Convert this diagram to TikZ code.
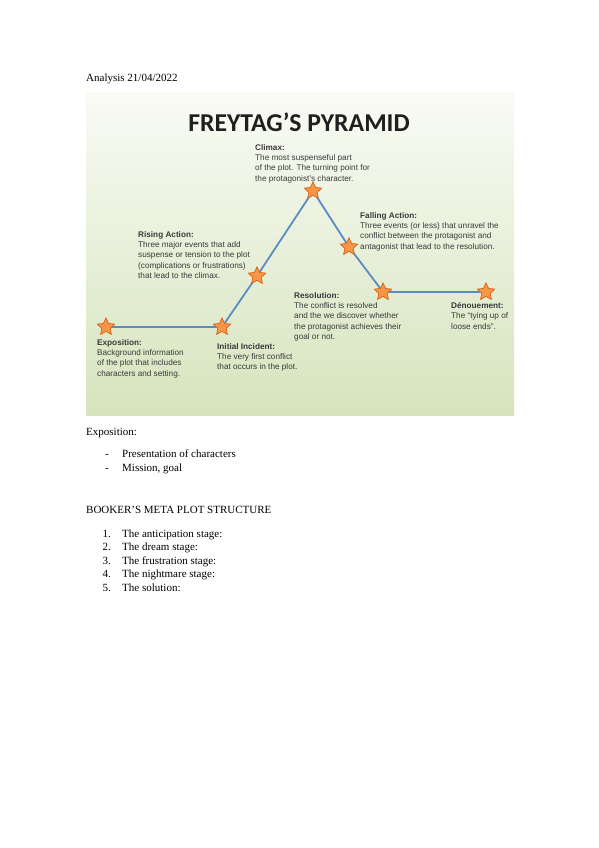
\documentclass[tikz,border=0pt]{standalone}
\usepackage{fontspec}
\setmainfont{Liberation Serif}
\newfontfamily\slidefont{Liberation Sans}
\newfontfamily\titlefont{Carlito}
\usetikzlibrary{shapes.geometric}

\definecolor{plotline}{HTML}{5B8BC4}
\definecolor{starfill}{HTML}{F79646}
\definecolor{stardraw}{HTML}{D9661F}
\definecolor{slidetop}{HTML}{F9FBF5}
\definecolor{slidebot}{HTML}{D6E4BD}
\definecolor{slidetext}{HTML}{3A3A3A}

\begin{document}
\begin{tikzpicture}[x=1pt,y=-1pt,
	plotstar/.style={star, star points=5, star point ratio=2.1, minimum size=18pt, inner sep=0pt, fill=starfill, draw=stardraw, line width=0.6pt},
	infotxt/.style={anchor=north west, inner sep=0pt, align=left, text=slidetext, font=\slidefont\fontsize{8.2}{10.4}\selectfont},
	pagetxt/.style={anchor=base west, inner sep=0pt, font=\fontsize{11}{13}\selectfont}]
	\useasboundingbox (0,0) rectangle (599,848);
	\fill[white] (0,0) rectangle (599,848);
	% slide picture
	\shade[top color=slidetop, bottom color=slidebot] (86,93) rectangle (514,415);
	\node[font=\titlefont\bfseries\fontsize{25.7}{28}\selectfont, text=black!88] (title) at (299,122) {FREYTAG’S PYRAMID};
	% the plot line
	\node[plotstar] (expo) at (106,327) {};
	\node[plotstar] (incident) at (222,327) {};
	\node[plotstar] (rising) at (257,276) {};
	\node[plotstar] (climax) at (313,191) {};
	\node[plotstar] (falling) at (349,247) {};
	\node[plotstar] (resol) at (383,292) {};
	\node[plotstar] (denoue) at (486,292) {};
	\draw[plotline, line width=1.8pt] (expo.center) -- (incident.center);
	\draw[plotline, line width=1.8pt] (incident.center) -- (rising.center);
	\draw[plotline, line width=1.8pt] (rising.center) -- (climax.center);
	\draw[plotline, line width=1.8pt] (climax.center) -- (falling.center);
	\draw[plotline, line width=1.8pt] (falling.center) -- (resol.center);
	\draw[plotline, line width=1.8pt] (resol.center) -- (denoue.center);
	\foreach \s in {expo,incident,rising,climax,falling,resol,denoue}
		\node[plotstar] at (\s) {};
	% the labels
	\node[infotxt] (climaxtxt) at (255,144) {\textbf{Climax:}\\The most suspenseful part\\of the plot. The turning point for\\the protagonist’s character.};
	\node[infotxt] (fallingtxt) at (360,212) {\textbf{Falling Action:}\\Three events (or less) that unravel the\\conflict between the protagonist and\\antagonist that lead to the resolution.};
	\node[infotxt] (risingtxt) at (138,231) {\textbf{Rising Action:}\\Three major events that add\\suspense or tension to the plot\\(complications or frustrations)\\that lead to the climax.};
	\node[infotxt] (resoltxt) at (294,292) {\textbf{Resolution:}\\The conflict is resolved\\and the we discover whether\\the protagonist achieves their\\goal or not.};
	\node[infotxt] (denouetxt) at (451,302) {\textbf{Dénouement:}\\The “tying up of\\loose ends”.};
	\node[infotxt] (expotxt) at (97,339) {\textbf{Exposition:}\\Background information\\of the plot that includes\\characters and setting.};
	\node[infotxt] (incidenttxt) at (217,343) {\textbf{Initial Incident:}\\The very first conflict\\that occurs in the plot.};
	% the page text
	\node[pagetxt] (date) at (86,82) {Analysis 21/04/2022};
	\node[pagetxt] (expohead) at (86,435) {Exposition:};
	\node[pagetxt] (dash1) at (105,457) {-};
	\node[pagetxt] (item1) at (122,457) {Presentation of characters};
	\node[pagetxt] (dash2) at (105,471) {-};
	\node[pagetxt] (item2) at (122,471) {Mission, goal};
	\node[pagetxt] (booker) at (86,513) {BOOKER’S META PLOT STRUCTURE};
	\foreach \n/\t [evaluate=\n as \yy using 537+13.6*(\n-1)] in {1/The anticipation stage:,2/The dream stage:,3/The frustration stage:,4/The nightmare stage:,5/The solution:}{
		\node[pagetxt, anchor=base east] (num\n) at (111,\yy) {\n.};
		\node[pagetxt] (stage\n) at (122,\yy) {\t};
	}
\end{tikzpicture}
\end{document}
